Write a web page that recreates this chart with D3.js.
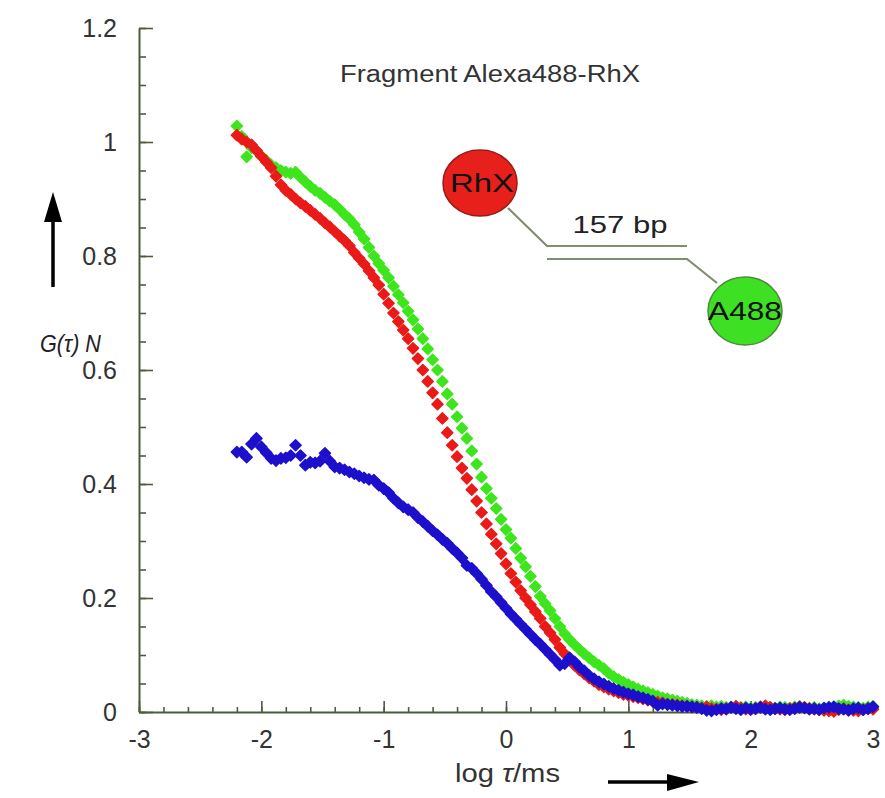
<!DOCTYPE html>
<html><head><meta charset="utf-8">
<script src="https://cdn.jsdelivr.net/npm/d3@7"></script>
<style>body{margin:0;background:#fff} svg text{font-family:"Liberation Sans",Arial,sans-serif}</style>
</head><body><svg id="c" width="885" height="798"></svg>
<script>
// log tau / ms sample positions
const logTau = [-2.20,-2.16,-2.12,-2.08,-2.04,-2.00,-1.96,-1.92,-1.88,-1.84,-1.80,-1.76,-1.72,-1.68,-1.64,-1.60,-1.56,-1.52,-1.48,-1.44,
-1.40,-1.36,-1.32,-1.28,-1.24,-1.20,-1.16,-1.12,-1.08,-1.04,-1.00,-0.96,-0.92,-0.88,-0.84,-0.80,-0.76,-0.72,-0.68,-0.64,
-0.60,-0.56,-0.52,-0.48,-0.44,-0.40,-0.36,-0.32,-0.28,-0.24,-0.20,-0.16,-0.12,-0.08,-0.04,0.00,0.04,0.08,0.12,0.16,
0.20,0.24,0.28,0.32,0.36,0.40,0.44,0.48,0.52,0.56,0.60,0.64,0.68,0.72,0.76,0.80,0.84,0.88,0.92,0.96,
1.00,1.04,1.08,1.12,1.16,1.20,1.24,1.28,1.32,1.36,1.40,1.44,1.48,1.52,1.56,1.60,1.64,1.68,1.72,1.76,
1.80,1.84,1.88,1.92,1.96,2.00,2.04,2.08,2.12,2.16,2.20,2.24,2.28,2.32,2.36,2.40,2.44,2.48,2.52,2.56,
2.60,2.64,2.68,2.72,2.76,2.80,2.84,2.88,2.92,2.96,3.00];

const greenG = [1.028,1.010,0.974,0.990,0.985,0.975,0.968,0.960,0.955,0.950,0.947,0.945,0.947,0.938,0.930,0.922,0.915,0.910,0.903,0.896,
0.890,0.882,0.873,0.865,0.855,0.842,0.830,0.815,0.800,0.787,0.775,0.762,0.747,0.732,0.718,0.703,0.688,0.672,0.655,0.637,
0.618,0.600,0.580,0.558,0.540,0.518,0.498,0.480,0.458,0.435,0.412,0.392,0.375,0.357,0.338,0.320,0.305,0.287,0.270,0.255,
0.238,0.220,0.203,0.190,0.178,0.164,0.150,0.137,0.127,0.118,0.110,0.102,0.095,0.088,0.082,0.076,0.068,0.062,0.057,0.052,
0.048,0.044,0.040,0.037,0.034,0.031,0.028,0.025,0.023,0.021,0.019,0.017,0.015,0.013,0.012,0.011,0.010,0.011,0.009,0.010,
0.008,0.009,0.010,0.008,0.009,0.007,0.008,0.009,0.010,0.008,0.007,0.009,0.008,0.007,0.009,0.010,0.008,0.007,0.008,0.006,
0.007,0.008,0.009,0.011,0.012,0.010,0.009,0.008,0.007,0.009,0.010];

const redG = [1.012,1.005,1.000,0.995,0.985,0.975,0.965,0.955,0.940,0.925,0.915,0.908,0.900,0.893,0.887,0.880,0.873,0.866,0.858,0.851,
0.843,0.835,0.827,0.818,0.806,0.796,0.786,0.774,0.762,0.749,0.733,0.717,0.700,0.685,0.670,0.655,0.638,0.620,0.600,0.580,
0.560,0.540,0.515,0.490,0.468,0.448,0.428,0.410,0.390,0.370,0.350,0.330,0.312,0.295,0.278,0.260,0.243,0.228,0.213,0.200,
0.188,0.176,0.164,0.150,0.139,0.127,0.113,0.102,0.092,0.082,0.074,0.067,0.060,0.054,0.048,0.044,0.040,0.037,0.034,0.031,
0.029,0.027,0.025,0.023,0.021,0.019,0.017,0.016,0.014,0.013,0.012,0.011,0.010,0.009,0.008,0.007,0.009,0.006,0.005,0.004,
0.006,0.008,0.010,0.007,0.005,0.004,0.006,0.009,0.011,0.008,0.006,0.005,0.004,0.006,0.007,0.009,0.008,0.006,0.005,0.004,
0.003,0.002,0.001,0.004,0.006,0.004,0.003,0.002,0.004,0.006,0.005];

const blueG = [0.456,0.456,0.447,0.470,0.480,0.465,0.455,0.445,0.441,0.445,0.446,0.450,0.468,0.450,0.433,0.438,0.437,0.440,0.454,0.440,
0.430,0.428,0.425,0.421,0.418,0.414,0.411,0.408,0.407,0.398,0.392,0.385,0.375,0.367,0.360,0.355,0.350,0.341,0.334,0.326,
0.318,0.311,0.303,0.296,0.287,0.279,0.270,0.257,0.252,0.243,0.233,0.222,0.211,0.202,0.192,0.182,0.172,0.163,0.154,0.145,
0.136,0.127,0.119,0.110,0.101,0.092,0.082,0.085,0.095,0.088,0.079,0.072,0.064,0.058,0.053,0.049,0.045,0.041,0.038,0.035,
0.032,0.030,0.027,0.025,0.022,0.019,0.012,0.014,0.013,0.012,0.011,0.010,0.010,0.009,0.008,0.006,0.003,0.002,0.004,0.006,
0.005,0.008,0.006,0.004,0.007,0.005,0.006,0.008,0.005,0.004,0.006,0.007,0.005,0.004,0.006,0.008,0.007,0.005,0.006,0.004,
0.007,0.008,0.009,0.006,0.005,0.003,0.006,0.007,0.004,0.006,0.009];

const xTicks = [-3,-2,-1,0,1,2,3];
const yTicks = [0,0.2,0.4,0.6,0.8,1,1.2];
const yTickLabels = ["0","0.2","0.4","0.6","0.8","1","1.2"];
const series = [
  {name:"A488", values: greenG, color:"#3de61c"},
  {name:"RhX",  values: redG,   color:"#ea1a18"},
  {name:"FCCS", values: blueG,  color:"#1c10cc"}
];

const svg = d3.select('#c');
const x = d3.scaleLinear().domain([-3,3]).range([139,873]);
const y = d3.scaleLinear().domain([0,1.2]).range([712,28]);
const axisColor = "#4d5c3c";

// minor ticks
const yMinor = svg.append('g').attr('transform','translate(139,0)')
  .call(d3.axisLeft(y).tickValues(d3.range(0,1.2001,0.05)).tickSize(-7).tickFormat(''));
yMinor.select('.domain').remove();
const xMinor = svg.append('g').attr('transform','translate(0,712)')
  .call(d3.axisBottom(x).tickValues(d3.range(-3,3.001,0.2)).tickSize(-5).tickFormat(''));
xMinor.select('.domain').remove();

const yAxis = svg.append('g').attr('transform','translate(139,0)')
  .call(d3.axisLeft(y).tickValues(yTicks).tickSize(-14).tickSizeOuter(0).tickPadding(22)
    .tickFormat((d,i)=>yTickLabels[i]));
const xAxis = svg.append('g').attr('transform','translate(0,712)')
  .call(d3.axisBottom(x).tickValues(xTicks).tickSize(-11).tickSizeOuter(0).tickPadding(18)
    .tickFormat(d3.format('d')));
[yAxis,xAxis,yMinor,xMinor].forEach(g=>{
  g.selectAll('line').attr('stroke',axisColor).attr('stroke-width',1.6);
  g.selectAll('.domain').attr('stroke',axisColor).attr('stroke-width',2);
  g.selectAll('text').attr('fill','#333').style('font-size','25px').attr('font-family','"Liberation Sans",Arial,sans-serif');
});
yAxis.selectAll('text').attr('dy','0.34em');
xAxis.selectAll('text').text(d=>d<0?'-'+Math.abs(d):d);

// data markers
const diamond = r => `M0,${-r}L${r},0L0,${r}L${-r},0Z`;
series.forEach(s=>{
  svg.append('g').selectAll('path').data(logTau.map((t,i)=>[t,s.values[i]]).filter(d=>d[1]!==undefined))
    .enter().append('path')
    .attr('d', diamond(5.6))
    .attr('transform', d=>`translate(${x(d[0])},${y(d[1])})`)
    .attr('fill', s.color)
    .attr('stroke', s.color).attr('stroke-width',1.4).attr('stroke-linejoin','round');
});

// title
svg.append('text').attr('x',340).attr('y',82).attr('font-size',23).attr('fill','#333')
  .attr('textLength',300).attr('lengthAdjust','spacingAndGlyphs')
  .text('Fragment Alexa488-RhX');

// y label and arrow
const yl = svg.append('text').attr('x',40).attr('y',352).attr('font-size',24).attr('fill','#222')
  .attr('font-style','italic').attr('textLength',61).attr('lengthAdjust','spacingAndGlyphs');
yl.append('tspan').text('G(τ) N');
svg.append('line').attr('x1',53).attr('y1',287).attr('x2',53).attr('y2',215)
  .attr('stroke','#000').attr('stroke-width',3.5);
svg.append('path').attr('d','M53,192L62,222L44,222Z').attr('fill','#000');

// x label and arrow
const xl = svg.append('text').attr('x',455).attr('y',782).attr('font-size',25).attr('fill','#333')
  .attr('textLength',105).attr('lengthAdjust','spacingAndGlyphs');
xl.append('tspan').text('log ');
xl.append('tspan').attr('font-style','italic').text('τ');
xl.append('tspan').text('/ms');
svg.append('line').attr('x1',608).attr('y1',782).attr('x2',675).attr('y2',782)
  .attr('stroke','#000').attr('stroke-width',3.5);
svg.append('path').attr('d','M699,782L667,774L667,791Z').attr('fill','#000');

// inset schematic
const lineCol = "#7f8d72";
svg.append('path').attr('d','M508,208L547,246L687,246').attr('fill','none').attr('stroke',lineCol).attr('stroke-width',2.2);
svg.append('path').attr('d','M547,259L687,259L717,283').attr('fill','none').attr('stroke',lineCol).attr('stroke-width',2.2);
svg.append('ellipse').attr('cx',480).attr('cy',183).attr('rx',37).attr('ry',33)
  .attr('fill','#e8201c').attr('stroke','#9a1a14').attr('stroke-width',1.5);
svg.append('ellipse').attr('cx',745).attr('cy',311).attr('rx',37).attr('ry',34)
  .attr('fill','#3ee024').attr('stroke','#4e8a3a').attr('stroke-width',1.5);
svg.append('text').attr('x',482).attr('y',192).attr('text-anchor','middle').attr('font-size',25).attr('fill','#111')
  .attr('textLength',64).attr('lengthAdjust','spacingAndGlyphs').text('RhX');
svg.append('text').attr('x',745).attr('y',320).attr('text-anchor','middle').attr('font-size',25).attr('fill','#111')
  .attr('textLength',74).attr('lengthAdjust','spacingAndGlyphs').text('A488');
svg.append('text').attr('x',620).attr('y',233).attr('text-anchor','middle').attr('font-size',24).attr('fill','#222')
  .attr('textLength',95).attr('lengthAdjust','spacingAndGlyphs').text('157 bp');
</script></body></html>
